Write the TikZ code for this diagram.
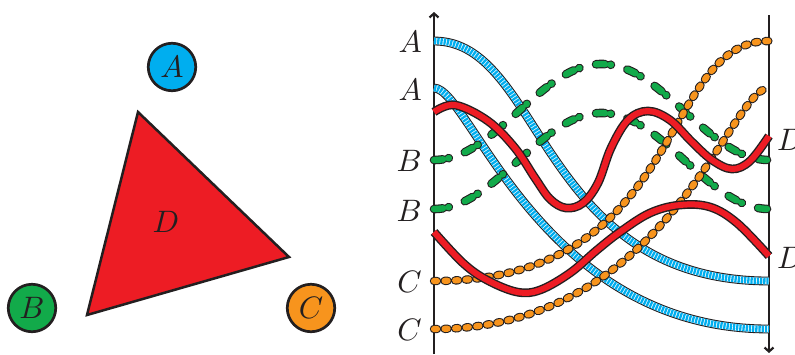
\documentclass[tikz,border=0pt]{standalone}
\usepackage{graphicx}
\usetikzlibrary{arrows.meta}
\definecolor{cyanP}{RGB}{0,174,239}
\definecolor{greenP}{RGB}{18,170,74}
\definecolor{orangeP}{RGB}{247,148,29}
\definecolor{redP}{RGB}{237,28,36}
\definecolor{inkP}{RGB}{35,31,32}
\newcommand{\bigL}[1]{\scalebox{3.1}{$#1$}}
\begin{document}
\begin{tikzpicture}[x=1pt,y=-1pt,
  lbl/.style={text=inkP, inner sep=0pt},
  ball/.style={circle, draw=inkP, line width=2.7pt, minimum size=47.5pt, inner sep=0pt, text=inkP},
  axisline/.style={draw=inkP, line width=2.2pt},
  bluecurve/.style={line width=6.6pt, draw=cyanP, dash pattern=on 2.3pt off 0.9pt,
    preaction={draw=inkP, line width=8.8pt, solid},
    preaction={draw=white, line width=6.6pt, solid}},
  orangecurve/.style={line width=6.2pt, draw=orangeP, line cap=round, dash pattern=on 3pt off 7.6pt,
    preaction={draw=inkP, line width=8.4pt, line cap=round, dash pattern=on 3pt off 7.6pt}},
  greencurve/.style={line width=6.4pt, draw=greenP, line cap=round, dash pattern=on 9pt off 5.5pt on 0.5pt off 17pt,
    preaction={draw=inkP, line width=8.6pt, line cap=round, dash pattern=on 9pt off 5.5pt on 0.5pt off 17pt}},
  redcurve/.style={line width=6pt, draw=redP, preaction={draw=inkP, line width=8.8pt}}
]
\useasboundingbox (0,0) rectangle (795,354);

% left panel
\draw[fill=redP, draw=inkP, line width=2.5pt, line join=miter] (138,112) -- (87,315) -- (289,257) -- cycle;
\node[lbl] (D) at (166,222) {\bigL{D}};
\node[ball, fill=cyanP] (A) at (172,67) {\bigL{A}};
\node[ball, fill=greenP] (B) at (32,308) {\bigL{B}};
\node[ball, fill=orangeP] (C) at (311,308) {\bigL{C}};

% right panel axes
\coordinate (LB) at (434,354);
\coordinate (LT) at (434,12);
\coordinate (RT) at (769,15);
\coordinate (RB) at (769,353);
\draw[axisline, -{Straight Barb[length=4pt,width=9pt]}] (LB) -- (LT);
\draw[axisline, -{Straight Barb[length=4pt,width=9pt]}] (RT) -- (RB);

% curves
\draw[bluecurve] (434,41) .. controls (543,41) and (539,281) .. (769,281);
\draw[bluecurve] (434,88) .. controls (470,88) and (540,329) .. (769,329);
\draw[greencurve] plot[domain=0:1, samples=80, smooth] ({434+335*\x},{160-48*(1-cos(360*\x))});
\draw[greencurve] plot[domain=0:1, samples=80, smooth] ({434+335*\x},{209-48*(1-cos(360*\x))});
\draw[orangecurve] (434,281) .. controls (688,281) and (658,41) .. (769,41);
\draw[orangecurve] (434,329) .. controls (669,329) and (730,88) .. (769,88);
\draw[redcurve] plot[smooth, tension=0.6] coordinates {(434,112) (455,105) (488,121) (515,148) (535,178) (550,199) (566,208) (583,203) (598,183) (611,148) (628,120) (648,111) (670,120) (692,142) (712,160) (732,169) (750,161) (769,136)};
\draw[redcurve] plot[smooth, tension=0.6] coordinates {(434,232) (463,263) (487,280) (517,292) (540,290) (570,273) (597,250) (620,232) (650,213) (680,205) (710,207) (737,223) (769,256)};

% labels
\node[lbl, anchor=east] (a1) at (422,42) {\bigL{A}};
\node[lbl, anchor=east] (a2) at (422,90) {\bigL{A}};
\node[lbl, anchor=east] (b1) at (422,161) {\bigL{B}};
\node[lbl, anchor=east] (b2) at (422,211) {\bigL{B}};
\node[lbl, anchor=east] (c1) at (422,282) {\bigL{C}};
\node[lbl, anchor=east] (c2) at (422,330) {\bigL{C}};
\node[lbl, anchor=west] (d1) at (777,140) {\bigL{D}};
\node[lbl, anchor=west] (d2) at (777,258) {\bigL{D}};
\end{tikzpicture}
\end{document}
